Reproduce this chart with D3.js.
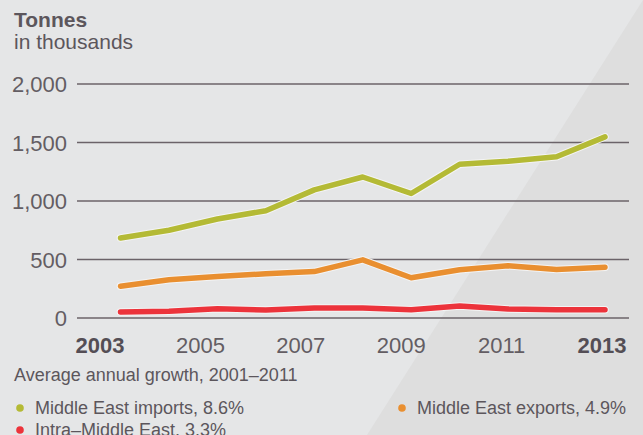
<!DOCTYPE html>
<html>
<head>
<meta charset="utf-8">
<script src="https://cdn.jsdelivr.net/npm/d3@7"></script>
<style>
  html, body { margin: 0; padding: 0; background: #e5e6e7; }
  svg { display: block; font-family: "Liberation Sans", Arial, sans-serif; }
</style>
</head>
<body>
<div id="chart"></div>
<script>
const years = [2003, 2004, 2005, 2006, 2007, 2008, 2009, 2010, 2011, 2012, 2013];
const imports = [684, 750, 846, 917, 1095, 1205, 1064, 1314, 1340, 1378, 1548];
const exports = [272, 327, 355, 378, 397, 497, 344, 412, 446, 414, 434];
const intra = [51, 57, 80, 68, 85, 85, 71, 102, 77, 71, 71];
const yTicks = [0, 500, 1000, 1500, 2000];
const xTickLabels = [2003, 2005, 2007, 2009, 2011, 2013];
const boldTicks = [2003, 2013];

const seriesNames = ['Middle East imports, 8.6%', 'Middle East exports, 4.9%', 'Intra\u2013Middle East, 3.3%'];
const seriesColors = ['#b4ba35', '#e98f30', '#ec333b'];

const width = 643, height = 435;
const textColor = '#5c565c';

const svg = d3.select('#chart').append('svg')
    .attr('width', width)
    .attr('height', height);

// background with lighter/darker diagonal
svg.append('rect')
    .attr('width', width).attr('height', height)
    .attr('fill', '#e5e6e7');
svg.append('path')
    .attr('d', 'M647,0 L643,0 L643,435 L368,435 Z')
    .attr('d', d3.line()([[648, 0], [643, 435], [367, 435], [643, 0]]))
    .attr('fill', '#dedede');

// title
svg.append('text')
    .attr('x', 14).attr('y', 27)
    .attr('font-size', 21).attr('font-weight', 'bold')
    .attr('fill', textColor)
    .text('Tonnes');
svg.append('text')
    .attr('x', 14).attr('y', 49)
    .attr('font-size', 21)
    .attr('fill', textColor)
    .text('in thousands');

const y = d3.scaleLinear().domain([0, 2000]).range([318, 84]);
const xData = d3.scalePoint().domain(years).range([120.5, 605]);
const xLabel = d3.scaleLinear().domain([2003, 2013]).range([100, 602]);

// grid lines
svg.append('g').selectAll('line')
    .data(yTicks)
    .enter().append('line')
        .attr('x1', 77).attr('x2', 629)
        .attr('y1', d => y(d)).attr('y2', d => y(d))
        .attr('stroke', '#6b6369')
        .attr('stroke-width', 1.6);

// y labels
svg.append('g').selectAll('text')
    .data(yTicks)
    .enter().append('text')
        .attr('x', 67)
        .attr('y', d => y(d) + 8)
        .attr('text-anchor', 'end')
        .attr('font-size', 22)
        .attr('fill', '#635d63')
        .text(d => d3.format(',')(d));

// x labels
svg.append('g').selectAll('text')
    .data(xTickLabels)
    .enter().append('text')
        .attr('x', d => xLabel(d))
        .attr('y', 353)
        .attr('text-anchor', 'middle')
        .attr('font-size', 22)
        .attr('font-weight', d => boldTicks.includes(d) ? 'bold' : 'normal')
        .attr('fill', d => boldTicks.includes(d) ? '#544e55' : '#635d63')
        .text(d => d);

// lines
const line = d3.line()
    .x((d, i) => xData(years[i]))
    .y(d => y(d));

const allSeries = [intra, exports, imports];
const allColors = [seriesColors[2], seriesColors[1], seriesColors[0]];

allSeries.forEach((s, i) => {
    svg.append('path')
        .datum(s)
        .attr('d', line)
        .attr('fill', 'none')
        .attr('stroke', '#f4f4f4')
        .attr('stroke-width', 7.5)
        .attr('stroke-linejoin', 'round')
        .attr('stroke-linecap', 'round');
    svg.append('path')
        .datum(s)
        .attr('d', line)
        .attr('fill', 'none')
        .attr('stroke', allColors[i])
        .attr('stroke-width', 5.5)
        .attr('stroke-linejoin', 'round')
        .attr('stroke-linecap', 'round');
});

// legend
svg.append('text')
    .attr('x', 14).attr('y', 381)
    .attr('font-size', 18)
    .attr('fill', textColor)
    .text('Average annual growth, 2001\u20132011');

const legendItems = [
    {name: seriesNames[0], color: seriesColors[0], x: 20, y: 414, anchor: 'start'},
    {name: seriesNames[1], color: seriesColors[1], x: 402, y: 414, anchor: 'start'},
    {name: seriesNames[2], color: seriesColors[2], x: 20, y: 436, anchor: 'start'}
];

const legend = svg.append('g').selectAll('g')
    .data(legendItems)
    .enter().append('g');
legend.append('circle')
    .attr('cx', d => d.x)
    .attr('cy', d => d.y - 6)
    .attr('r', 3.8)
    .attr('fill', d => d.color);
legend.append('text')
    .attr('x', d => d.x + 15)
    .attr('y', d => d.y)
    .attr('font-size', 18)
    .attr('fill', textColor)
    .text(d => d.name);
</script>
</body>
</html>
